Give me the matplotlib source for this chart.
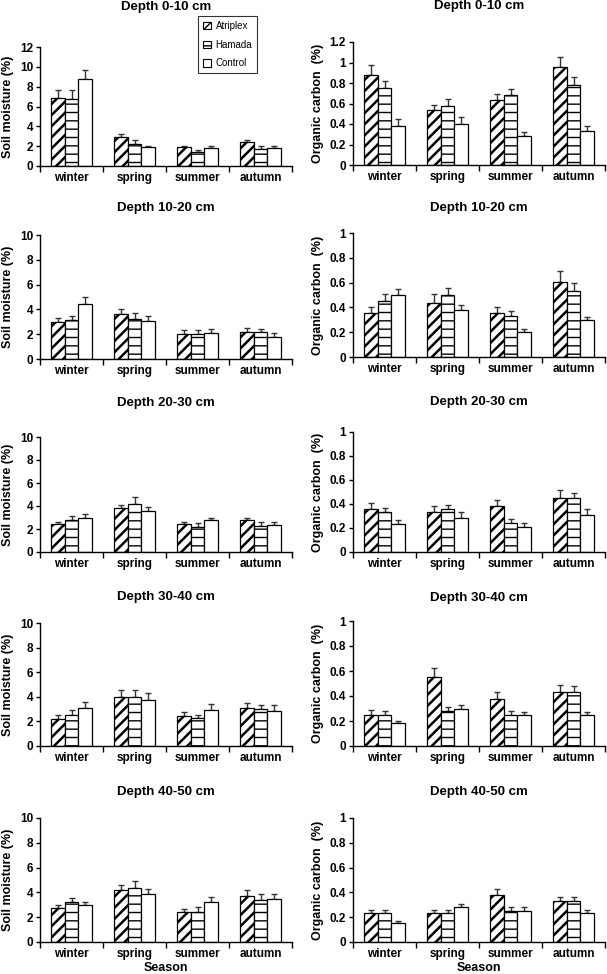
import numpy as np
import matplotlib.pyplot as plt
from matplotlib.patches import Patch

plt.rcParams['font.family'] = ['Liberation Sans', 'DejaVu Sans']

seasons = ['winter', 'spring', 'summer', 'autumn']
treatments = ['Atriplex', 'Hamada', 'Control']
depths = ['0-10', '10-20', '20-30', '30-40', '40-50']

# soil moisture (%), rows = Atriplex, Hamada, Control
sm_0_10 = [[6.9, 2.9, 1.9, 2.4], [6.8, 2.2, 1.4, 1.7], [8.8, 1.9, 1.8, 1.8]]
sm_0_10_err = [[0.75, 0.3, 0.12, 0.2], [0.9, 0.4, 0.2, 0.3], [0.9, 0.12, 0.25, 0.25]]
sm_10_20 = [[2.95, 3.6, 2.0, 2.2], [3.15, 3.25, 2.0, 2.15], [4.4, 3.05, 2.1, 1.8]]
sm_10_20_err = [[0.38, 0.43, 0.33, 0.3], [0.3, 0.45, 0.33, 0.3], [0.6, 0.45, 0.35, 0.27]]
sm_20_30 = [[2.4, 3.8, 2.4, 2.75], [2.75, 4.15, 2.15, 2.25], [3.0, 3.55, 2.75, 2.35]]
sm_20_30_err = [[0.2, 0.25, 0.2, 0.25], [0.4, 0.6, 0.35, 0.4], [0.3, 0.35, 0.25, 0.23]]
sm_30_40 = [[2.2, 3.95, 2.4, 3.05], [2.55, 4.0, 2.25, 3.0], [3.05, 3.7, 2.9, 2.85]]
sm_30_40_err = [[0.35, 0.6, 0.35, 0.45], [0.35, 0.55, 0.25, 0.35], [0.5, 0.6, 0.5, 0.45]]
sm_40_50 = [[2.75, 4.2, 2.45, 3.75], [3.2, 4.35, 2.45, 3.4], [2.95, 3.85, 3.25, 3.45]]
sm_40_50_err = [[0.25, 0.4, 0.25, 0.45], [0.35, 0.6, 0.4, 0.45], [0.3, 0.4, 0.35, 0.4]]

# organic carbon (%)
oc_0_10 = [[0.88, 0.535, 0.63, 0.955], [0.755, 0.58, 0.68, 0.78], [0.38, 0.40, 0.28, 0.33]]
oc_0_10_err = [[0.1, 0.055, 0.06, 0.1], [0.065, 0.06, 0.065, 0.075], [0.07, 0.07, 0.045, 0.05]]
oc_10_20 = [[0.355, 0.435, 0.355, 0.605], [0.45, 0.5, 0.33, 0.53], [0.5, 0.38, 0.2, 0.3]]
oc_10_20_err = [[0.05, 0.07, 0.05, 0.09], [0.06, 0.06, 0.045, 0.065], [0.05, 0.04, 0.022, 0.025]]
oc_20_30 = [[0.355, 0.335, 0.38, 0.45], [0.335, 0.355, 0.245, 0.45], [0.235, 0.285, 0.205, 0.305]]
oc_20_30_err = [[0.05, 0.045, 0.055, 0.07], [0.035, 0.035, 0.03, 0.045], [0.035, 0.05, 0.035, 0.05]]
oc_30_40 = [[0.25, 0.55, 0.38, 0.43], [0.25, 0.28, 0.25, 0.43], [0.185, 0.3, 0.25, 0.25]]
oc_30_40_err = [[0.04, 0.075, 0.05, 0.06], [0.03, 0.035, 0.03, 0.05], [0.015, 0.03, 0.022, 0.025]]
oc_40_50 = [[0.235, 0.235, 0.38, 0.33], [0.235, 0.235, 0.25, 0.33], [0.155, 0.285, 0.25, 0.235]]
oc_40_50_err = [[0.02, 0.02, 0.045, 0.035], [0.02, 0.02, 0.03, 0.035], [0.015, 0.025, 0.03, 0.025]]

sm_all = [sm_0_10, sm_10_20, sm_20_30, sm_30_40, sm_40_50]
sm_err_all = [sm_0_10_err, sm_10_20_err, sm_20_30_err, sm_30_40_err, sm_40_50_err]
oc_all = [oc_0_10, oc_10_20, oc_20_30, oc_30_40, oc_40_50]
oc_err_all = [oc_0_10_err, oc_10_20_err, oc_20_30_err, oc_30_40_err, oc_40_50_err]

W, H = 607, 974
fig = plt.figure(figsize=(W / 100, H / 100), dpi=100)

# pixel layout (top, bottom) of each panel
left_rows = [(47, 166), (235, 359), (437, 552), (623, 746), (818, 942)]
right_rows = [(42, 165), (233, 357), (432, 552), (621, 746), (818, 942)]
left_x = (40, 292)
right_x = (353, 605)
left_title_y = [7, 208, 403, 597, 792]
right_title_y = [6, 208, 402, 598, 792]

hatches = ['///', '--', '']
hatch_lw = [1.8, 1.0, 1.0]
bw = 0.22
x = np.arange(len(seasons))


def fmt_num(v):
    s = '%.1f' % v
    return s[:-2] if s.endswith('.0') else s


def panel(xr, yr, vals, errs, ymax, ystep, ylabel, label_right_px):
    ax = fig.add_axes([xr[0] / W, 1 - yr[1] / H, (xr[1] - xr[0]) / W, (yr[1] - yr[0]) / H])
    for i in range(3):
        plt.rcParams['hatch.linewidth'] = hatch_lw[i]
        bars = ax.bar(x + (i - 1) * bw, vals[i], bw, color='white', edgecolor='black',
                      linewidth=0.9, hatch=hatches[i], zorder=2)
        for b in bars:
            if hasattr(b, 'set_hatch_linewidth'):
                b.set_hatch_linewidth(hatch_lw[i])
        ax.errorbar(x + (i - 1) * bw, vals[i], yerr=[np.zeros(4), errs[i]], fmt='none',
                    ecolor='#333333', elinewidth=1, capsize=2.5, capthick=1, zorder=1)
    ax.set_xlim(-0.5, 3.5)
    ax.set_ylim(0, ymax)
    ticks = np.arange(0, ymax + ystep / 2, ystep)
    ax.set_yticks(ticks)
    ax.set_yticklabels([fmt_num(v) for v in ticks])
    ax.set_xticks(x)
    ax.set_xticklabels(seasons)
    ax.set_xticks(np.arange(-0.5, 4, 1), minor=True)
    ax.tick_params(axis='x', which='major', length=0, pad=4, labelsize=8.5)
    ax.tick_params(axis='x', which='minor', length=4, width=1, direction='out')
    ax.tick_params(axis='y', length=3, width=1, direction='out', labelsize=8.5, pad=2)
    for t in ax.get_xticklabels() + ax.get_yticklabels():
        t.set_fontweight('bold')
    ax.spines['top'].set_visible(False)
    ax.spines['right'].set_visible(False)
    ax.spines['left'].set_linewidth(1)
    ax.spines['bottom'].set_linewidth(1)
    ax.set_ylabel(ylabel, fontsize=9, fontweight='bold')
    ax.yaxis.set_label_coords((label_right_px - xr[0]) / (xr[1] - xr[0]), 0.5)
    return ax


for r in range(5):
    ymax_sm = 12 if r == 0 else 10
    panel(left_x, left_rows[r], sm_all[r], sm_err_all[r], ymax_sm, 2,
          'Soil moisture (%)', 14)
    ymax_oc = 1.2 if r == 0 else 1.0
    panel(right_x, right_rows[r], oc_all[r], oc_err_all[r], ymax_oc, 0.2,
          'Organic carbon  (%)', 324)
    fig.text((left_x[0] + left_x[1]) / 2 / W, 1 - left_title_y[r] / H, 'Depth %s cm' % depths[r],
             ha='center', va='center', fontsize=9.5, fontweight='bold')
    fig.text((right_x[0] + right_x[1]) / 2 / W, 1 - right_title_y[r] / H, 'Depth %s cm' % depths[r],
             ha='center', va='center', fontsize=9.5, fontweight='bold')

fig.text((left_x[0] + left_x[1]) / 2 / W, 1 - 968 / H, 'Season', ha='center', va='center',
         fontsize=9, fontweight='bold')
fig.text((right_x[0] + right_x[1]) / 2 / W, 1 - 968 / H, 'Season', ha='center', va='center',
         fontsize=9, fontweight='bold')

plt.rcParams['hatch.linewidth'] = 1.0
handles = [Patch(facecolor='white', edgecolor='black', hatch=h, linewidth=0.8) for h in hatches]
leg = fig.legend(handles, treatments, loc='upper left', bbox_to_anchor=(198 / W, 1 - 16 / H),
                 fontsize=7, frameon=True, fancybox=False, edgecolor='black',
                 handlelength=0.8, handleheight=0.8, handletextpad=0.5, labelspacing=0.9,
                 borderpad=0.5, borderaxespad=0)
leg.get_frame().set_linewidth(0.8)

fig.savefig('out.png', dpi=100)
